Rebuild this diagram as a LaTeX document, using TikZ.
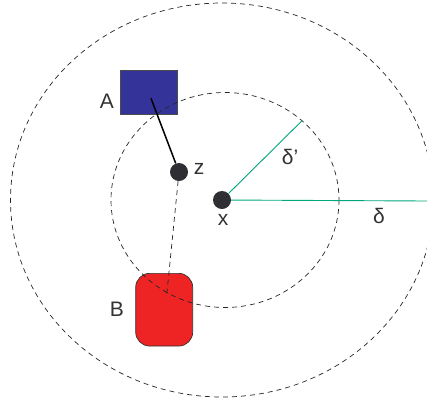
\documentclass[tikz,border=0pt]{standalone}
\usepackage{fontspec}
\setmainfont{Liberation Sans}
\definecolor{boxblue}{HTML}{333399}
\definecolor{boxred}{HTML}{EE2424}
\definecolor{dotgray}{HTML}{2E2E33}
\definecolor{txtgray}{HTML}{333333}
\definecolor{radgreen}{HTML}{00A67E}
\begin{document}
\begin{tikzpicture}[x=1pt,y=-1pt,
  ring/.style={draw=black!85,dashed,dash pattern=on 5pt off 4pt,line width=0.7pt},
  dot/.style={circle,fill=dotgray,inner sep=0pt,minimum size=18pt},
  lbl/.style={text=txtgray,font=\fontsize{21}{21}\selectfont,inner sep=0pt},
  radius line/.style={draw=radgreen,line width=0.9pt}]
\useasboundingbox (0,0) rectangle (427,402);
% boxes
\node (A) [draw=black!70,fill=boxblue,line width=0.6pt,minimum width=57pt,minimum height=43.6pt,inner sep=0pt] at (149.2,92.5) {};
\node (B) [draw=black!80,fill=boxred,rounded corners=14pt,line width=0.7pt,minimum width=57pt,minimum height=72.7pt,inner sep=0pt] at (164.2,309.7) {};
% rings
\draw[ring] (222,200) ellipse [x radius=211.5, y radius=197];
\draw[ring] (225,200) ellipse [x radius=114, y radius=107.5];
% points
\node (x) [dot] at (222,200) {};
\node (z) [dot] at (179,172) {};
\coordinate (a0) at (151,98.3);
\coordinate (b0) at (166.7,295);
\coordinate (dend) at (427,201);
\coordinate (dpend) at (302,120.7);
% connectors
\draw[black,line width=1.5pt] (a0) -- (z);
\draw[ring] (z) -- (b0);
\draw[radius line] (x) -- (dend);
\draw[radius line] (x) -- (dpend);
% labels
\node (lA) [lbl] at (107,101) {A};
\node (lB) [lbl] at (117,309) {B};
\node (lz) [lbl] at (199,169) {z};
\node (lx) [lbl] at (223,220) {x};
\node (ldp) [lbl] at (290,157) {δ’};
\node (ld) [lbl] at (379,216) {δ};
\end{tikzpicture}
\end{document}
